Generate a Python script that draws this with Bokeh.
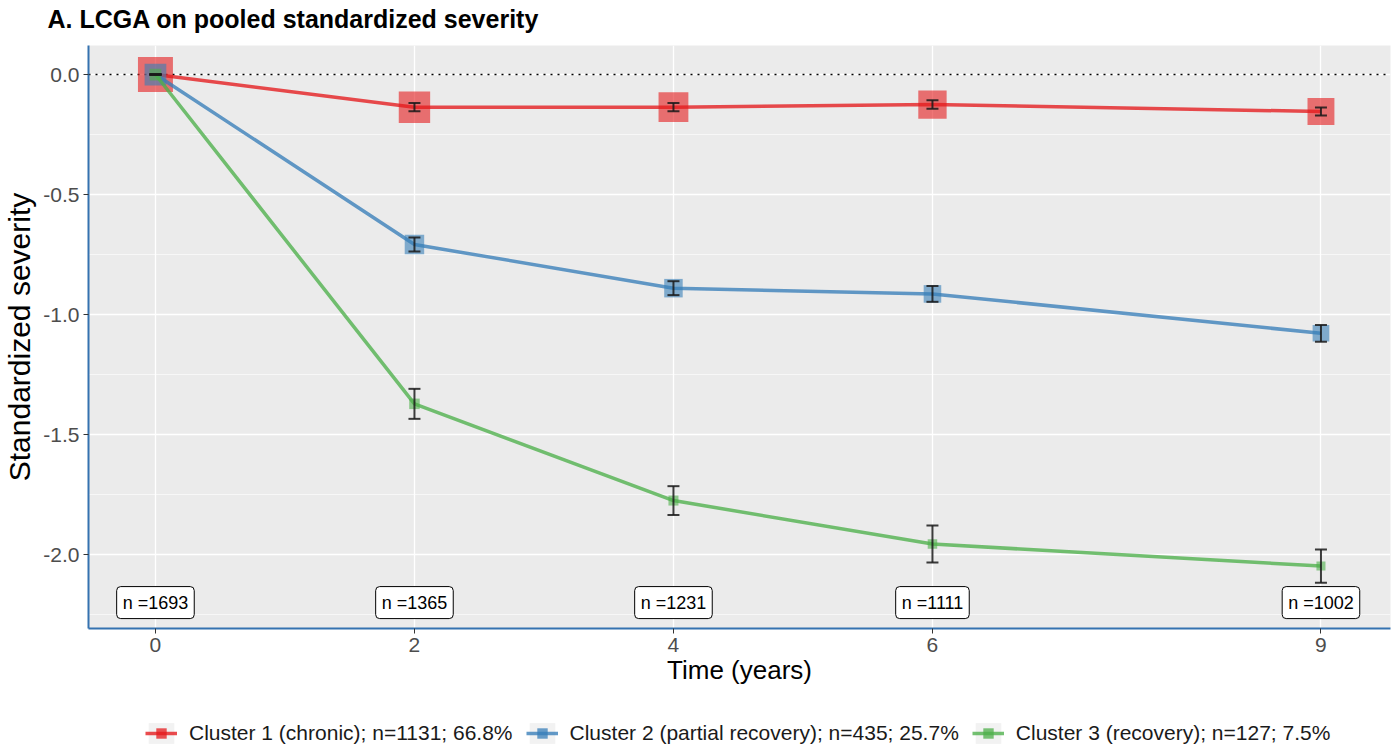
import math

from bokeh.core.properties import value
from bokeh.embed import file_html
from bokeh.layouts import column
from bokeh.models import (ColumnDataSource, FixedTicker, Legend, LegendItem,
                          PrintfTickFormatter, Range1d, Span, TeeHead, Title,
                          Whisker)
from bokeh.plotting import figure
from bokeh.resources import INLINE

# ---------------------------------------------------------------- data
years = [0, 2, 4, 6, 9]
n_at_wave = [1693, 1365, 1231, 1111, 1002]

cluster_names = ["Cluster 1 (chronic)", "Cluster 2 (partial recovery)", "Cluster 3 (recovery)"]
cluster_n = [1131, 435, 127]
cluster_pct = [66.8, 25.7, 7.5]

# estimated mean standardized severity per wave, and half-width of the error bar
chronic_mean = [0.0, -0.136, -0.136, -0.125, -0.154]
chronic_err = [0.0, 0.017, 0.017, 0.018, 0.017]
partial_mean = [0.0, -0.708, -0.890, -0.914, -1.078]
partial_err = [0.0, 0.029, 0.029, 0.033, 0.035]
recovery_mean = [0.0, -1.372, -1.775, -1.956, -2.048]
recovery_err = [0.0, 0.0625, 0.060, 0.077, 0.069]

x_ticks = [0, 2, 4, 6, 9]
y_ticks = [0.0, -0.5, -1.0, -1.5, -2.0]
y_minor = [0.25, -0.25, -0.75, -1.25, -1.75, -2.25]

# ---------------------------------------------------------------- style
FONT = "Liberation Sans"
colors = ["#E41A1C", "#377EB8", "#4DAF4A"]
size_per_sqrt_n = 1.04          # marker side (px) per sqrt(expected cluster size)
label_row_y = -2.2              # vertical position of the "n =" boxes


def strip(height):
    """Axis-less white band used for the heading and the legend row."""
    s = figure(width=1395, height=height, x_range=Range1d(0, 1), y_range=Range1d(0, 1),
               x_axis_type=None, y_axis_type=None, output_backend="svg",
               toolbar_location=None, min_border=0)
    s.outline_line_color = None
    s.background_fill_color = "white"
    s.border_fill_color = "white"
    return s


# ---------------------------------------------------------------- heading
head_strip = strip(45)
head_strip.title = Title(text="A. LCGA on pooled standardized severity", align="left",
                         offset=-41, text_font=FONT, text_font_size="25px",
                         text_font_style="bold", text_color="black", standoff=5)

# ---------------------------------------------------------------- main panel
means = [chronic_mean, partial_mean, recovery_mean]
errs = [chronic_err, partial_err, recovery_err]

p = figure(
    width=1395, height=660,
    x_range=Range1d(-0.517, 9.537), y_range=Range1d(-2.308, 0.121),
    output_backend="svg", toolbar_location=None,
    min_border_left=88, min_border_right=5, min_border_top=0, min_border_bottom=77,
)
p.title.visible = False
p.background_fill_color = "#EBEBEB"
p.border_fill_color = "white"
p.outline_line_color = None

# grid
p.xgrid.grid_line_color = "white"
p.xgrid.grid_line_width = 1.3
p.ygrid.grid_line_color = "white"
p.ygrid.grid_line_width = 1.3
p.ygrid.minor_grid_line_color = "white"
p.ygrid.minor_grid_line_width = 0.6

# axes
p.xaxis.ticker = FixedTicker(ticks=x_ticks)
p.yaxis.ticker = FixedTicker(ticks=y_ticks, minor_ticks=y_minor)
p.yaxis.formatter = PrintfTickFormatter(format="%.1f")
for ax in (p.xaxis, p.yaxis):
    ax.axis_line_color = "#3572B0"
    ax.axis_line_width = 2
    ax.major_tick_line_color = "#333333"
    ax.major_tick_in = 0
    ax.major_tick_out = 5
    ax.minor_tick_line_color = None
    ax.major_label_text_font = FONT
    ax.major_label_text_font_size = "21px"
    ax.major_label_text_color = "#4D4D4D"
    ax.major_label_standoff = 4
    ax.axis_label_text_font = FONT
    ax.axis_label_text_font_style = "normal"
    ax.axis_label_text_color = "black"
p.xaxis.axis_label = "Time (years)"
p.yaxis.axis_label = "Standardized severity"
p.xaxis.axis_label_text_font_size = "26px"
p.yaxis.axis_label_text_font_size = "30px"
p.xaxis.axis_label_standoff = 0
p.yaxis.axis_label_standoff = 4

# reference line at zero
p.add_layout(Span(location=0, dimension="width", line_color="black",
                  line_dash="2 5", line_width=1.6, level="underlay"))

for col, pct, m, e in zip(colors, cluster_pct, means, errs):
    sizes = [size_per_sqrt_n * math.sqrt(nw * pct / 100.0) for nw in n_at_wave]
    src = ColumnDataSource(dict(
        x=years, y=m, size=sizes,
        upper=[a + b for a, b in zip(m, e)],
        lower=[a - b for a, b in zip(m, e)],
    ))
    p.line("x", "y", source=src, line_color=col, line_width=3.5, line_alpha=0.78)
    p.scatter("x", "y", source=src, size="size", marker="square",
              fill_color=col, fill_alpha=0.6, line_color=None)
    head = dict(size=12, line_color="#1A1A1A", line_alpha=0.85, line_width=2)
    p.add_layout(Whisker(source=src, base="x", upper="upper", lower="lower",
                         dimension="height", line_color="#1A1A1A", line_alpha=0.85,
                         line_width=2, level="annotation",
                         upper_head=TeeHead(**head), lower_head=TeeHead(**head)))

# sample size per wave
n_src = ColumnDataSource(dict(x=years, y=[label_row_y] * len(years),
                              label=[f"n ={n}" for n in n_at_wave]))
p.text("x", "y", text="label", source=n_src,
       text_font=value(FONT), text_font_size="18px", text_color="black",
       text_align="center", text_baseline="middle",
       background_fill_color="white", border_line_color="black", border_line_width=1,
       padding=6, border_radius=4)

# ---------------------------------------------------------------- legend row
# The strip's ranges are [0, 1]; its key glyphs sit outside them so only the
# legend entries are visible.
leg = strip(41)
leg.title.visible = False

off = [5, 6]
items = []
for name, n, pct, col in zip(cluster_names, cluster_n, cluster_pct, colors):
    key_bg = leg.quad(left=off[:1], right=off[1:], bottom=off[:1], top=off[1:],
                      fill_color="#F2F2F2", line_color=None)
    ln = leg.line(x=off, y=off, line_color=col, line_width=3.5, line_alpha=0.78)
    pt = leg.scatter(x=off, y=off, marker="square", fill_color=col,
                     fill_alpha=0.75, line_color=None)
    items.append(LegendItem(label=f"{name}; n={n}; {pct}%", renderers=[key_bg, ln, pt]))

legend = Legend(items=items, orientation="horizontal", location=(57, 0),
                glyph_width=32, glyph_height=26, label_height=26, label_standoff=12,
                spacing=13, padding=0, margin=0, border_line_color=None,
                background_fill_alpha=0, label_text_font=FONT,
                label_text_font_size="21px", label_text_color="#1A1A1A")
leg.add_layout(legend)

layout = column(head_strip, p, leg, spacing=0)
open("out.html", "w").write(file_html(layout, INLINE))
